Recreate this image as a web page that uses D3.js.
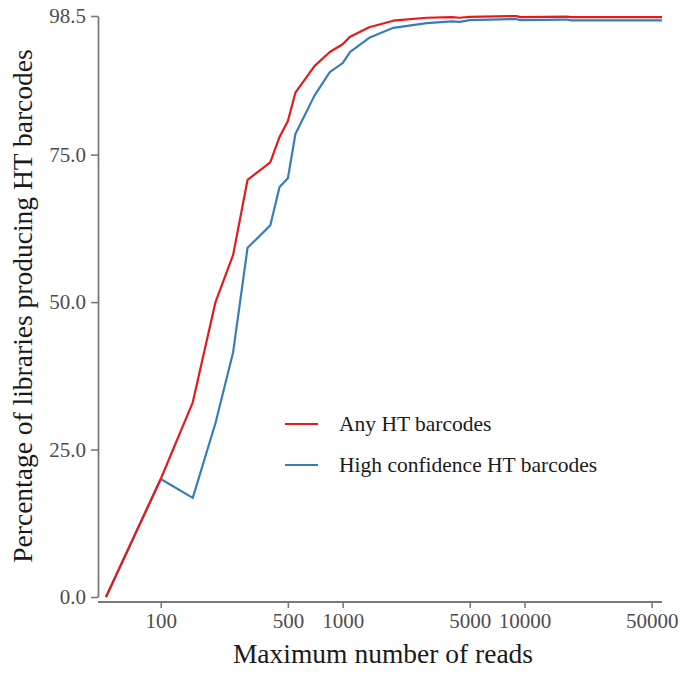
<!DOCTYPE html>
<html>
<head>
<meta charset="utf-8">
<script src="https://cdn.jsdelivr.net/npm/d3@7"></script>
<style>
  body { margin: 0; background: #fff; }
</style>
</head>
<body>
<div id="chart"></div>
<script>
// Maximum number of reads (x) and percentages (y)
var reads = [50, 100, 150, 200, 250, 300, 400, 450, 500, 550, 700, 850, 1000, 1100, 1400, 1900, 2900, 4000, 4400, 5000, 9000, 9500, 17000, 18000, 57000];
var anyHT = [0, 20, 33, 50, 58, 70.7, 73.7, 78, 80.7, 85.5, 90, 92.4, 93.7, 95, 96.6, 97.7, 98.2, 98.3, 98.2, 98.35, 98.5, 98.3, 98.4, 98.3, 98.3];
var highConf = [0, 20, 16.8, 29.5, 41.5, 59.2, 63, 69.5, 71, 78.5, 85, 89, 90.5, 92.4, 94.8, 96.5, 97.3, 97.6, 97.5, 97.8, 98.0, 97.8, 97.9, 97.75, 97.75];
var xTicks = [100, 500, 1000, 5000, 10000, 50000];
var yTicks = [0, 25, 50, 75, 98.5];
var seriesNames = ['Any HT barcodes', 'High confidence HT barcodes'];
var seriesColors = ['#e41a1c', '#377eb8'];

var W = 686, H = 677;
var FONT = '"Liberation Serif", "Times New Roman", Times, serif';
var svg = d3.select('#chart').append('svg').attr('width', W).attr('height', H)
  .style('font-family', FONT);

var x = d3.scaleLog().domain([50, 57000]).range([106, 662]);
var y = d3.scaleLinear().domain([0, 98.5]).range([597, 16]);

var axisColor = '#7a7a7a', labelColor = '#4d4d4d';

// x axis
var gx = svg.append('g').attr('transform', 'translate(0,602)')
  .call(d3.axisBottom(x).tickValues(xTicks).tickFormat(d3.format('d')).tickSize(6).tickSizeOuter(0).tickPadding(5));
gx.attr('font-family', FONT);
gx.select('.domain').attr('d', 'M98,0H662').attr('stroke', axisColor).attr('stroke-width', 1.8);
gx.selectAll('.tick line').attr('stroke', axisColor).attr('stroke-width', 1.6);
gx.selectAll('.tick text').attr('fill', labelColor).attr('font-size', 21).attr('font-family', FONT);

// y axis
var gy = svg.append('g').attr('transform', 'translate(98,0)')
  .call(d3.axisLeft(y).tickValues(yTicks).tickFormat(d3.format('.1f')).tickSize(7).tickSizeOuter(0).tickPadding(5));
gy.attr('font-family', FONT);
gy.select('.domain').attr('stroke', axisColor).attr('stroke-width', 1.8);
gy.selectAll('.tick line').attr('stroke', axisColor).attr('stroke-width', 1.6);
gy.selectAll('.tick text').attr('fill', labelColor).attr('font-size', 21).attr('font-family', FONT);

// axis titles
svg.append('text').attr('x', 383).attr('y', 663).attr('text-anchor', 'middle')
  .attr('font-family', FONT).attr('font-size', 27.5).attr('fill', '#1a1a1a').text('Maximum number of reads');
svg.append('text').attr('transform', 'translate(32,306) rotate(-90)').attr('text-anchor', 'middle')
  .attr('font-family', FONT).attr('font-size', 27.5).attr('fill', '#1a1a1a').text('Percentage of libraries producing HT barcodes');

// lines
var line = d3.line().x(function(d) { return x(d[0]); }).y(function(d) { return y(d[1]); });
[highConf, anyHT].forEach(function(vals) {
  var idx = vals === anyHT ? 0 : 1;
  svg.append('path')
    .datum(reads.map(function(r, i) { return [r, vals[i]]; }))
    .attr('d', line).attr('fill', 'none')
    .attr('stroke', seriesColors[idx]).attr('stroke-width', 2.2)
    .attr('stroke-linejoin', 'round');
});

// legend
var legend = svg.append('g').attr('transform', 'translate(285,424)');
seriesNames.forEach(function(name, i) {
  var row = legend.append('g').attr('transform', 'translate(0,' + (i * 41) + ')');
  row.append('line').attr('x1', 0).attr('x2', 33).attr('y1', 0).attr('y2', 0)
    .attr('stroke', seriesColors[i]).attr('stroke-width', 2.2);
  row.append('text').attr('x', 54).attr('y', 7).attr('font-family', FONT)
    .attr('font-size', 21.5).attr('fill', '#1a1a1a').text(name);
});
</script>
</body>
</html>
